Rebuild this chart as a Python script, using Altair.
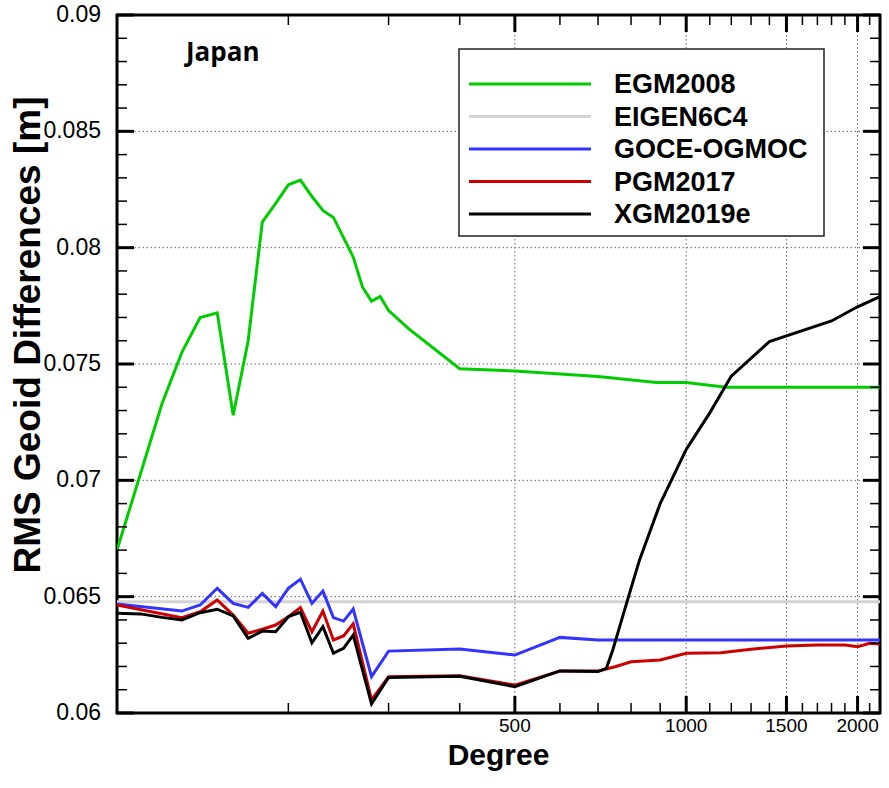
import math
import altair as alt
import pandas as pd

NAMES = ["EGM2008", "EIGEN6C4", "GOCE-OGMOC", "PGM2017", "XGM2019e"]
COLORS = ["#00cc00", "#d3d3d3", "#3333ff", "#cc0000", "#000000"]

deg_egm = [100, 120, 130, 140, 150, 160, 170, 180, 190, 200, 210, 220, 230, 240, 260, 270,
           280, 290, 300, 326, 400, 500, 700, 886, 1000, 1175, 1500, 2190]
val_egm = [0.0670, 0.0733, 0.0755, 0.0770, 0.0772, 0.0728, 0.0760, 0.0811, 0.0819, 0.0827,
           0.0829, 0.0822, 0.0816, 0.0813, 0.0796, 0.0783, 0.0777, 0.0779, 0.0773, 0.0765,
           0.0748, 0.0747, 0.07446, 0.0742, 0.0742, 0.0740, 0.0740, 0.0740]

deg_eigen = [100, 2190]
val_eigen = [0.06478, 0.06478]

deg_goce = [100, 130, 140, 150, 160, 170, 180, 190, 200, 210, 220, 230, 240, 250, 260, 280,
            300, 400, 500, 600, 700, 2190]
val_goce = [0.06468, 0.06438, 0.06464, 0.06536, 0.06471, 0.06454, 0.06514, 0.06457, 0.06536,
            0.06575, 0.06471, 0.06524, 0.06410, 0.06395, 0.06447, 0.06156, 0.06266, 0.06275,
            0.06249, 0.06325, 0.06314, 0.06314]

deg_pgm = [100, 130, 140, 150, 160, 170, 180, 190, 200, 210, 220, 230, 240, 250, 260, 280,
           300, 400, 500, 600, 700, 750, 800, 900, 1000, 1150, 1300, 1500, 1700, 1900, 2000,
           2100, 2190]
val_pgm = [0.06464, 0.06410, 0.06435, 0.06486, 0.06421, 0.06343, 0.06360, 0.06378, 0.06414,
           0.06453, 0.06349, 0.06438, 0.06314, 0.06331, 0.06383, 0.06056, 0.06156, 0.06160,
           0.06120, 0.06181, 0.06181, 0.06199, 0.06220, 0.06228, 0.06257, 0.06259, 0.06274,
           0.06288, 0.06292, 0.06292, 0.06285, 0.06300, 0.06297]

deg_xgm = [100, 110, 120, 130, 140, 150, 160, 170, 180, 190, 200, 210, 220, 230, 240, 250,
           260, 280, 300, 400, 500, 600, 700, 724, 743, 764, 795, 828, 900, 1000, 1100, 1200,
           1400, 1800, 2000, 2190]
val_xgm = [0.06429, 0.06426, 0.06411, 0.06400, 0.06431, 0.06446, 0.06417, 0.06321, 0.06352,
           0.06349, 0.06414, 0.06433, 0.06302, 0.06371, 0.06257, 0.06278, 0.06335, 0.06039,
           0.06153, 0.06158, 0.06113, 0.06181, 0.06178, 0.06192, 0.06271, 0.06371, 0.06514,
           0.06658, 0.06900, 0.07133, 0.07290, 0.07448, 0.07596, 0.07685, 0.07746, 0.07790]

SERIES = [(deg_egm, val_egm), (deg_eigen, val_eigen), (deg_goce, val_goce),
          (deg_pgm, val_pgm), (deg_xgm, val_xgm)]

X_MAJOR = [500, 1000, 1500, 2000]
X_LABELS = ["500", "1000", "1500", "2000"]
X_MINOR = [200, 300, 400, 600, 700, 800, 900, 1100, 1200, 1300, 1400, 1600, 1700, 1800,
           1900, 2100]
Y_MAJOR = [0.06, 0.065, 0.07, 0.075, 0.08, 0.085, 0.09]
Y_LABELS = ["0.06", "0.065", "0.07", "0.075", "0.08", "0.085", "0.09"]
Y_MINOR = [0.061, 0.062, 0.063, 0.064, 0.066, 0.067, 0.068, 0.069, 0.071, 0.072, 0.073,
           0.074, 0.076, 0.077, 0.078, 0.079, 0.081, 0.082, 0.083, 0.084, 0.086, 0.087,
           0.088, 0.089]

X_DOM = [100, 2190]
Y_DOM = [0.06, 0.09]
W, H = 763, 698
xs = alt.Scale(type="log", domain=X_DOM, nice=False)
ys = alt.Scale(domain=Y_DOM, nice=False, zero=False)


def XF(field="deg"):
    return alt.X(f"{field}:Q", scale=xs, axis=None)


def YF(field="val"):
    return alt.Y(f"{field}:Q", scale=ys, axis=None)


layers = []

# dotted grid
layers.append(
    alt.Chart(pd.DataFrame({"deg": X_MAJOR})).mark_rule(
        color="#666666", strokeWidth=1, strokeDash=[1.5, 2.5]).encode(x=XF())
)
layers.append(
    alt.Chart(pd.DataFrame({"val": Y_MAJOR[1:-1]})).mark_rule(
        color="#666666", strokeWidth=1, strokeDash=[1.5, 2.5]).encode(y=YF())
)

# data lines
for (d, v), c in zip(SERIES, COLORS):
    df = pd.DataFrame({"deg": d, "val": v})
    layers.append(
        alt.Chart(df).mark_line(color=c, strokeWidth=3, clip=True).encode(x=XF(), y=YF())
    )

one = pd.DataFrame({"a": [0]})

# inward frame ticks (axis decoration): tick values mapped to the frame with the
# same log / linear geometry as the scales above
LOG_SPAN = math.log10(X_DOM[1] / X_DOM[0])


def tick_px(v):
    return W * math.log10(v / X_DOM[0]) / LOG_SPAN


def tick_py(v):
    return H * (Y_DOM[1] - v) / (Y_DOM[1] - Y_DOM[0])


for vals, ln, sw in ((X_MAJOR, 17, 3), (X_MINOR, 10, 1.5)):
    for v in vals:
        p = tick_px(v)
        for y0, y1 in ((H, H - ln), (0, ln)):
            layers.append(
                alt.Chart(one).mark_rule(color="black", strokeWidth=sw).encode(
                    x=alt.value(p), x2=alt.value(p), y=alt.value(y0), y2=alt.value(y1))
            )
for vals, ln, sw in ((Y_MAJOR, 17, 3), (Y_MINOR, 10, 1.5)):
    for v in vals:
        p = tick_py(v)
        for x0, x1 in ((0, ln), (W, W - ln)):
            layers.append(
                alt.Chart(one).mark_rule(color="black", strokeWidth=sw).encode(
                    x=alt.value(x0), x2=alt.value(x1), y=alt.value(p))
            )

# tick labels
layers.append(
    alt.Chart(pd.DataFrame({"deg": X_MAJOR, "lab": X_LABELS})).mark_text(
        font="Liberation Sans", fontSize=19, color="black", align="center",
        baseline="top").encode(x=XF(), y=alt.value(H + 4), text="lab:N")
)
layers.append(
    alt.Chart(pd.DataFrame({"val": Y_MAJOR, "lab": Y_LABELS})).mark_text(
        font="Liberation Sans", fontSize=23, color="black", align="right",
        baseline="middle").encode(y=YF(), x=alt.value(-16), text="lab:N")
)

# axis titles
layers.append(
    alt.Chart(one).mark_text(text="Degree", font="Liberation Sans", fontWeight="bold",
                             fontSize=30, color="black", align="center",
                             baseline="alphabetic").encode(
        x=alt.value(W / 2), y=alt.value(H + 52))
)
layers.append(
    alt.Chart(one).mark_text(text="RMS Geoid Differences [m]", font="Liberation Sans",
                             fontWeight="bold", fontSize=37, color="black",
                             align="center", baseline="middle", angle=270).encode(
        x=alt.value(-88), y=alt.value(320))
)

# legend box
layers.append(
    alt.Chart(one).mark_rect(fill="white", stroke="#222222", strokeWidth=1.5).encode(
        x=alt.value(342), x2=alt.value(707), y=alt.value(34), y2=alt.value(221))
)
for i, (name, c) in enumerate(zip(NAMES, COLORS)):
    yrow = 69 + i * 32.5
    layers.append(
        alt.Chart(one).mark_rule(color=c, strokeWidth=3).encode(
            x=alt.value(352), x2=alt.value(474), y=alt.value(yrow))
    )
    layers.append(
        alt.Chart(one).mark_text(text=name, align="left", baseline="middle",
                                 font="Liberation Sans", fontWeight="bold",
                                 fontSize=27, color="black").encode(
            x=alt.value(497), y=alt.value(yrow + 1))
    )

layers.append(
    alt.Chart(one).mark_text(text="Japan", align="left", baseline="alphabetic",
                             font="Open Sans", fontWeight="bold", fontSize=26,
                             color="black").encode(
        x=alt.value(69), y=alt.value(46))
)

chart = alt.layer(*layers).properties(
    width=W, height=H,
    autosize=alt.AutoSizeParams(type="none"),
    padding={"left": 117, "top": 15, "right": 9, "bottom": 75},
    background="white",
).configure_view(stroke="black", strokeWidth=3)

chart.save("out.html", embed_options={"renderer": "svg", "actions": False})
